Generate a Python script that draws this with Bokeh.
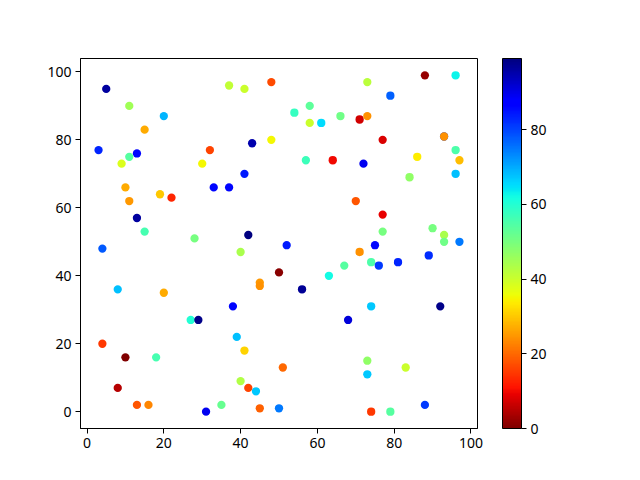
import numpy as np
from bokeh.plotting import figure
from bokeh.models import (Range1d, LinearColorMapper, ColorBar, FixedTicker,
                          ColumnDataSource)
from bokeh.embed import file_html
from bokeh.resources import INLINE

# ---- data ----
xs = [5, 11, 20, 15, 3, 13, 11, 9, 10, 11, 19, 22, 13, 15, 28, 37, 41, 48, 43, 48,
      32, 30, 33, 37, 41, 42, 40, 52, 73, 88, 96, 79, 54, 58, 58, 61, 66, 71, 73, 77,
      93, 93, 96, 97, 96, 86, 84, 57, 64, 72, 70, 77, 77, 90, 93, 93, 97, 75, 71, 67,
      74, 76, 81, 89, 63, 56, 50, 74, 92, 68, 73, 73, 83, 51, 50, 74, 79, 88, 4, 8,
      20, 45, 45, 38, 27, 29, 39, 41, 4, 10, 18, 40, 42, 44, 8, 13, 16, 31, 35, 45]
ys = [95, 90, 87, 83, 77, 76, 75, 73, 66, 62, 64, 63, 57, 53, 51, 96, 95, 97, 79, 80,
      77, 73, 66, 66, 70, 52, 47, 49, 97, 99, 99, 93, 88, 90, 85, 85, 87, 86, 87, 80,
      81, 81, 77, 74, 70, 75, 69, 74, 74, 73, 62, 58, 53, 54, 52, 50, 50, 49, 47, 43,
      44, 43, 44, 46, 40, 36, 41, 31, 31, 27, 15, 11, 13, 13, 1, 0, 0, 2, 48, 36,
      35, 38, 37, 31, 27, 27, 22, 18, 20, 16, 16, 9, 7, 6, 7, 2, 2, 0, 2, 1]
cs = [96, 45, 69, 27, 83, 86, 54, 38, 27, 25, 30, 13, 96, 56, 50, 41, 40, 17, 95, 35,
      16, 35, 86, 86, 84, 99, 44, 84, 42, 2, 63, 77, 58, 53, 40, 65, 51, 7, 24, 8,
      80, 24, 55, 29, 68, 34, 47, 57, 10, 89, 18, 9, 50, 50, 44, 51, 75, 86, 24, 54,
      55, 81, 83, 82, 62, 97, 1, 67, 98, 91, 47, 67, 40, 20, 75, 15, 54, 81, 78, 68,
      27, 25, 24, 86, 60, 98, 68, 31, 15, 0, 56, 43, 16, 67, 5, 18, 23, 89, 52, 19]
cbar_ticks = [0, 20, 40, 60, 80]
axis_ticks = [0, 20, 40, 60, 80, 100]

# ---- jet_r palette (matplotlib 'jet' segment data, reversed) ----
def _jet(v):
    r = np.interp(v, [0, 0.35, 0.66, 0.89, 1], [0, 0, 1, 1, 0.5])
    g = np.interp(v, [0, 0.125, 0.375, 0.64, 0.91, 1], [0, 0, 1, 1, 0, 0])
    b = np.interp(v, [0, 0.11, 0.34, 0.65, 1], [0.5, 1, 1, 0, 0])
    return "#%02x%02x%02x" % (int(round(r * 255)), int(round(g * 255)), int(round(b * 255)))

palette = [_jet(1 - i / 255) for i in range(256)]
mapper = LinearColorMapper(palette=palette, low=min(cs), high=max(cs))

FONT = "Noto Sans"

def padded(vals):
    lo, hi = min(vals), max(vals)
    m = 0.05 * (hi - lo)
    return Range1d(lo - m, hi + m)

p = figure(frame_width=397, frame_height=370,
           x_range=padded(xs), y_range=padded(ys),
           output_backend="svg", toolbar_location=None,
           min_border_left=80, min_border_top=58, min_border_right=110,
           min_border_bottom=40)

src = ColumnDataSource(dict(x=xs, y=ys, c=cs))
p.scatter("x", "y", source=src, size=8.3,
          fill_color={"field": "c", "transform": mapper}, line_color=None)

p.xgrid.visible = False
p.ygrid.visible = False
p.outline_line_color = "black"
p.outline_line_width = 1
p.background_fill_color = "white"
p.border_fill_color = "white"

for ax in (p.xaxis[0], p.yaxis[0]):
    ax.ticker = FixedTicker(ticks=axis_ticks)
    ax.major_tick_out = 5
    ax.major_tick_in = 0
    ax.minor_tick_line_color = None
    ax.axis_line_color = "black"
    ax.major_label_text_font = FONT
    ax.major_label_text_font_size = "14px"
    ax.major_label_text_color = "black"
    ax.major_label_standoff = 4

cb = ColorBar(color_mapper=mapper, width=19, height=370,
              location=(0, -25),
              ticker=FixedTicker(ticks=cbar_ticks),
              major_tick_out=5, major_tick_in=0,
              major_tick_line_color="black",
              minor_tick_line_color=None,
              bar_line_color="black",
              border_line_color=None, background_fill_color=None,
              major_label_text_font=FONT,
              major_label_text_font_size="14px",
              major_label_text_color="black",
              label_standoff=4,
              padding=25, margin=0)
p.add_layout(cb, "right")

open("out.html", "w").write(file_html(p, INLINE))
